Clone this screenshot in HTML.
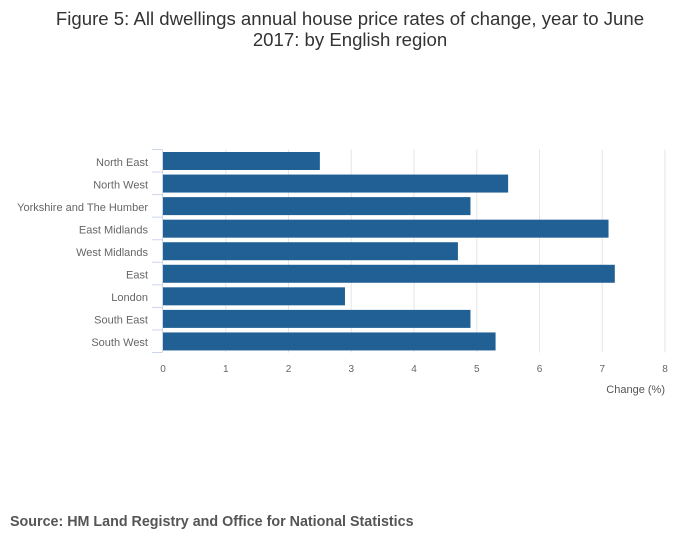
<!DOCTYPE html>
<html><head><meta charset="utf-8"><style>
body{margin:0;background:#fff;font-family:"Liberation Sans",sans-serif;}
</style></head><body>
<svg width="700" height="549" xmlns="http://www.w3.org/2000/svg">
<rect width="700" height="549" fill="#fff"/>
<text x="350" y="25" text-anchor="middle" font-size="18.6" fill="#333">Figure 5: All dwellings annual house price rates of change, year to June</text>
<text x="350" y="46" text-anchor="middle" font-size="18.6" fill="#333">2017: by English region</text>
<g id="grid"></g><g id="bars"></g><g id="axes"></g>
<text x="665" y="393" text-anchor="end" font-size="11" fill="#555">Change (%)</text>
<text x="10" y="526" font-size="14.3" font-weight="bold" fill="#555">Source: HM Land Registry and Office for National Statistics</text>
</svg>
<script>
const categories=["North East","North West","Yorkshire and The Humber","East Midlands","West Midlands","East","London","South East","South West"];
const values=[2.5,5.5,4.9,7.1,4.7,7.2,2.9,4.9,5.3];
const xTicks=[0,1,2,3,4,5,6,7,8];
const NS="http://www.w3.org/2000/svg";
const x0=163,x1=665,yTop=149.5,yBot=352.5,xmax=8;
const band=(yBot-yTop)/categories.length;
function xs(v){return x0+(x1-x0)*v/xmax;}
function ys(i){return yTop+band*i;}
function mk(tag,attrs,parent,txt){const e=document.createElementNS(NS,tag);for(const k in attrs)e.setAttribute(k,attrs[k]);if(txt!=null)e.textContent=txt;document.getElementById(parent).appendChild(e);return e;}
xTicks.forEach(t=>{
 if(t>0){const g=mk('line',{x1:xs(t),x2:xs(t),y1:yTop,y2:yBot,stroke:'#e6e6e6'},'grid');
 
 }
 const l=mk('text',{x:xs(t),y:372,'text-anchor':'middle','font-size':'10',fill:'#666'},'axes',t);
 
 
});
const ax=mk('line',{x1:162.5,x2:162.5,y1:yTop,y2:yBot,stroke:'#ccd6eb'},'axes');


for(let i=0;i<=categories.length;i++){
 const tk=mk('line',{x1:152,x2:162,y1:ys(i),y2:ys(i),stroke:'#ccd6eb'},'axes');
 
 
}
categories.forEach((c,i)=>{
 const b=mk('rect',{x:x0,y:ys(i)+2.5,width:xs(values[i])-x0,height:18,fill:'#206095'},'bars');
 
 
 const t=mk('text',{x:148,y:ys(i)+band/2+5,'text-anchor':'end','font-size':'11',fill:'#666'},'axes',c);
 
 
});
</script>
</body></html>
